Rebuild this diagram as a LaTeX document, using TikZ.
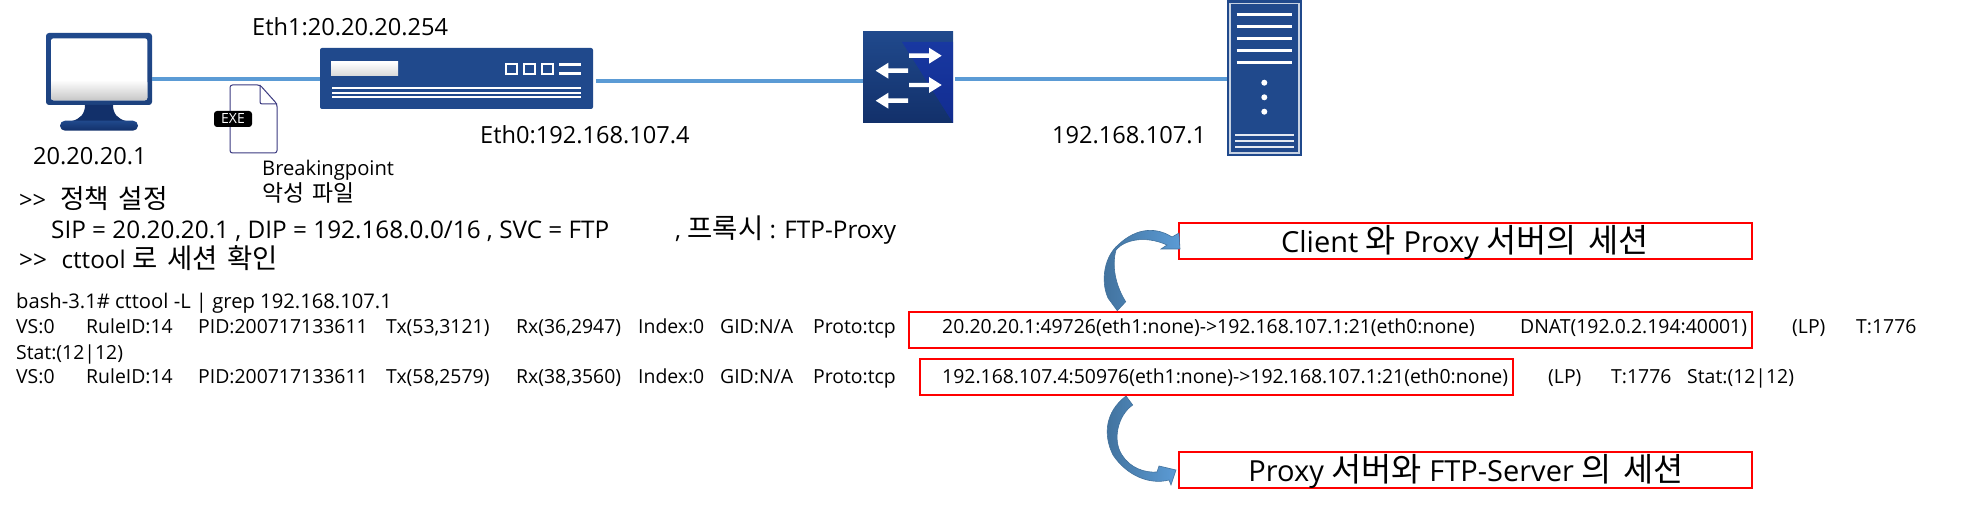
\documentclass[tikz,border=0pt]{standalone}
\usepackage{fontspec}
\setmainfont{Open Sans}
\newfontfamily\hg[Scale=1.13,WordSpace=1.6]{Noto Sans CJK KR}
\definecolor{navy}{HTML}{20498C}
\definecolor{navyd}{HTML}{12306A}
\definecolor{linkc}{HTML}{5B9BD5}
\definecolor{arrd}{HTML}{41719C}
\definecolor{filec}{HTML}{3B3A80}
\newcounter{tokc}
\tikzset{
  txt/.style={anchor=base west,inner sep=0pt,text=black},
  big/.style={txt,font=\fontsize{23.6}{27}\selectfont},
  bigger/.style={txt,font=\fontsize{24.3}{27}\selectfont},
  small/.style={txt,font=\fontsize{20.2}{23}\selectfont},
  logt/.style={txt,font=\fontsize{19.4}{21}\selectfont},
  redbox/.style={draw=red,line width=2.5pt},
  title/.style={anchor=base,inner sep=0pt,font=\fontsize{29}{32}\selectfont},
  link/.style={draw=linkc,line width=3.2pt},
  hold/.style={inner sep=0pt,outer sep=0pt,rectangle},
  curved/.style={draw=arrd,line width=.6pt,shade,left color=arrd,right color=linkc}
}
\newcommand\tok[3]{\stepcounter{tokc}\node[logt,name=tok\thetokc] at (#1,#2) {#3};}
\newcommand\rarrow[3]{\fill[white] (#1,#3-2.2) -- (#2-12.7,#3-2.2) -- (#2-12.7,#3-8) -- (#2,#3) -- (#2-12.7,#3+8) -- (#2-12.7,#3+2.2) -- (#1,#3+2.2) -- cycle;}
\newcommand\larrow[3]{\fill[white] (#1,#3-2.2) -- (#2+12.7,#3-2.2) -- (#2+12.7,#3-8) -- (#2,#3) -- (#2+12.7,#3+8) -- (#2+12.7,#3+2.2) -- (#1,#3+2.2) -- cycle;}
\begin{document}
\begin{tikzpicture}[x=1pt,y=-1pt]
\useasboundingbox[fill=white] (0,0) rectangle (1982,505);

% PC
\node[hold,name=pc,minimum width=106pt,minimum height=72pt,rounded corners=3pt,shade,top color=navy,bottom color=navy!90!black] at (99,69) {};
\fill[navyd] (85,105) .. controls (85,114) and (80,119) .. (72,121) -- (126,121) .. controls (118,119) and (113,114) .. (113,105) -- cycle;
\shade[top color=navy,bottom color=navyd,rounded corners=5pt] (60,120.7) rectangle (138,130.7);
\fill[white,rounded corners=2.5pt] (51,38.3) rectangle (147.3,100.3);
\shade[top color=white,bottom color=black!22,rounded corners=2.5pt] (51,80) rectangle (147.3,100.3);

% firewall
\node[hold,name=fw,minimum width=273pt,minimum height=61pt,rounded corners=2pt,fill=navy] at (456.5,78.5) {};
\shade[top color=white,bottom color=black!15] (331,62) rectangle (398,76);
\foreach \a in {506,524,542}{\draw[white,line width=1.8pt] (\a,64) rectangle (\a+11,74);}
\fill[white] (559,63) rectangle (581,66);
\fill[white] (559,72) rectangle (581,75);
\foreach \b in {88,93,97}{\draw[white,line width=1.2pt] (332,\b) -- (581,\b);}

% switch
\node[hold,name=sw,minimum width=90pt,minimum height=91pt,shade,top color=navy,bottom color=navyd] at (908,77.5) {};
\fill[blue!45!navy,opacity=.45] (902,42) -- (953,42) -- (953,123) -- cycle;
\rarrow{909}{941.7}{55.7}
\larrow{908}{875.7}{70.7}
\rarrow{909}{941.7}{85}
\larrow{908}{875.7}{100.7}

% server
\node[hold,name=srv,minimum width=75pt,minimum height=156pt,fill=navy] at (1264.5,78) {};
\draw[white!75!navy,line width=1.1pt] (1230,3.3) rectangle (1299,153);
\foreach \c in {15,27,39,51,62.7}{\draw[white,line width=3pt] (1236.7,\c) -- (1292.3,\c);}
\foreach \d in {82.7,97.3,111.7}{\fill[white] (1264.3,\d) circle (3);}
\foreach \e in {135,140.7,146.7}{\draw[white!88!navy,line width=2pt] (1235,\e) -- (1294,\e);}

% links
\draw[link] (pc.east |- 0,79) -- (fw.west |- 0,79);
\draw[link] (596,81) -- (sw.west |- 0,81);
\draw[link] (955,79) -- (srv.west |- 0,79);

% file
\draw[filec,fill=white,line width=1pt,rounded corners=2.5pt] (230,85) -- (260,85) -- (277,104) -- (277,153) -- (230,153) -- cycle;
\draw[filec,line width=1pt,rounded corners=2pt] (260,85) -- (260,104) -- (277,104);
\node[hold,name=exe,minimum width=38pt,minimum height=16pt,rounded corners=3pt,fill=black,text=white,font=\fontsize{14}{15}\selectfont] at (233,119) {EXE};

% labels
\node[big,name=lblA] at (252,36) {Eth1:20.20.20.254};
\node[big,name=lblB] at (33,165) {20.20.20.1};
\node[big,name=lblC] at (480,144) {Eth0:192.168.107.4};
\node[big,name=lblD] at (1052,144) {192.168.107.1};
\node[small,name=lblE] at (262,175.5) {Breakingpoint};
\node[small,name=lblF] at (262,202) {\hg 악성 파일};
\node[big,name=lblG] at (19,208.5) {>{}>\hspace{.6em}{\hg 정책 설정}};
\node[bigger,name=lblH] at (51,239) {SIP = 20.20.20.1 , DIP = 192.168.0.0/16 , SVC = FTP};
\node[bigger,name=lblI] at (675,239) {, {\hg 프록시} : FTP-Proxy};
\node[bigger,name=lblJ] at (19,269) {>{}>\hspace{.6em}cttool {\hg 로 세션 확인}};

% log
\node[txt,font=\fontsize{20.2}{22}\selectfont,name=bashline] at (16,308.5) {bash-3.1\# cttool -L | grep 192.168.107.1};
\tok{16}{333.5}{VS:0}\tok{86}{333.5}{RuleID:14}\tok{198}{333.5}{PID:200717133611}\tok{386}{333.5}{Tx(53,3121)}\tok{516}{333.5}{Rx(36,2947)}\tok{638}{333.5}{Index:0}\tok{720}{333.5}{GID:N/A}\tok{813}{333.5}{Proto:tcp}
\tok{942}{333.5}{20.20.20.1:49726(eth1:none)->192.168.107.1:21(eth0:none)}\tok{1520}{333.5}{DNAT(192.0.2.194:40001)}\tok{1792}{333.5}{(LP)}\tok{1856}{333.5}{T:1776}
\tok{16}{359}{Stat:(12|12)}
\tok{16}{383.5}{VS:0}\tok{86}{383.5}{RuleID:14}\tok{198}{383.5}{PID:200717133611}\tok{386}{383.5}{Tx(58,2579)}\tok{516}{383.5}{Rx(38,3560)}\tok{638}{383.5}{Index:0}\tok{720}{383.5}{GID:N/A}\tok{813}{383.5}{Proto:tcp}
\tok{942}{383.5}{192.168.107.4:50976(eth1:none)->192.168.107.1:21(eth0:none)}\tok{1548}{383.5}{(LP)}\tok{1611}{383.5}{T:1776}\tok{1687}{383.5}{Stat:(12|12)}

% red boxes
\node[hold,redbox,name=box1,minimum width=843pt,minimum height=36pt] at (1330.5,330) {};
\node[hold,redbox,name=box2,minimum width=593pt,minimum height=36pt] at (1216.5,377) {};
\node[hold,redbox,name=top,minimum width=573pt,minimum height=36pt] at (1465.5,241) {};
\node[hold,redbox,name=bot,minimum width=573pt,minimum height=36pt] at (1465.5,470) {};
\node[title,name=topt] at (1465,253) {Client {\hg 와} Proxy {\hg 서버의 세션}};
\node[title,name=bott] at (1466,481) {Proxy {\hg 서버와} FTP-Server {\hg 의 세션}};

% curved arrows
\path[curved] (1117.3,310.7) -- (1125.7,301.7) .. controls (1117,288) and (1111,268) .. (1116,250) .. controls (1124,240) and (1145,235) .. (1167,245) -- (1161,249) -- (1180,249) -- (1179,233) -- (1172,237) .. controls (1158,228) and (1138,226) .. (1118,245) .. controls (1105,256) and (1100,280) .. (1108,298) -- cycle;
\path[curved] (1126,396) -- (1132.7,405) .. controls (1118,415) and (1112,440) .. (1122,455) .. controls (1130,468) and (1145,473) .. (1157,472) -- (1159,466) -- (1176,470) -- (1171,485) -- (1169,480) .. controls (1150,485) and (1127,476) .. (1113,455) .. controls (1103,435) and (1105,412) .. (1126,396) -- cycle;
\end{tikzpicture}
\end{document}
